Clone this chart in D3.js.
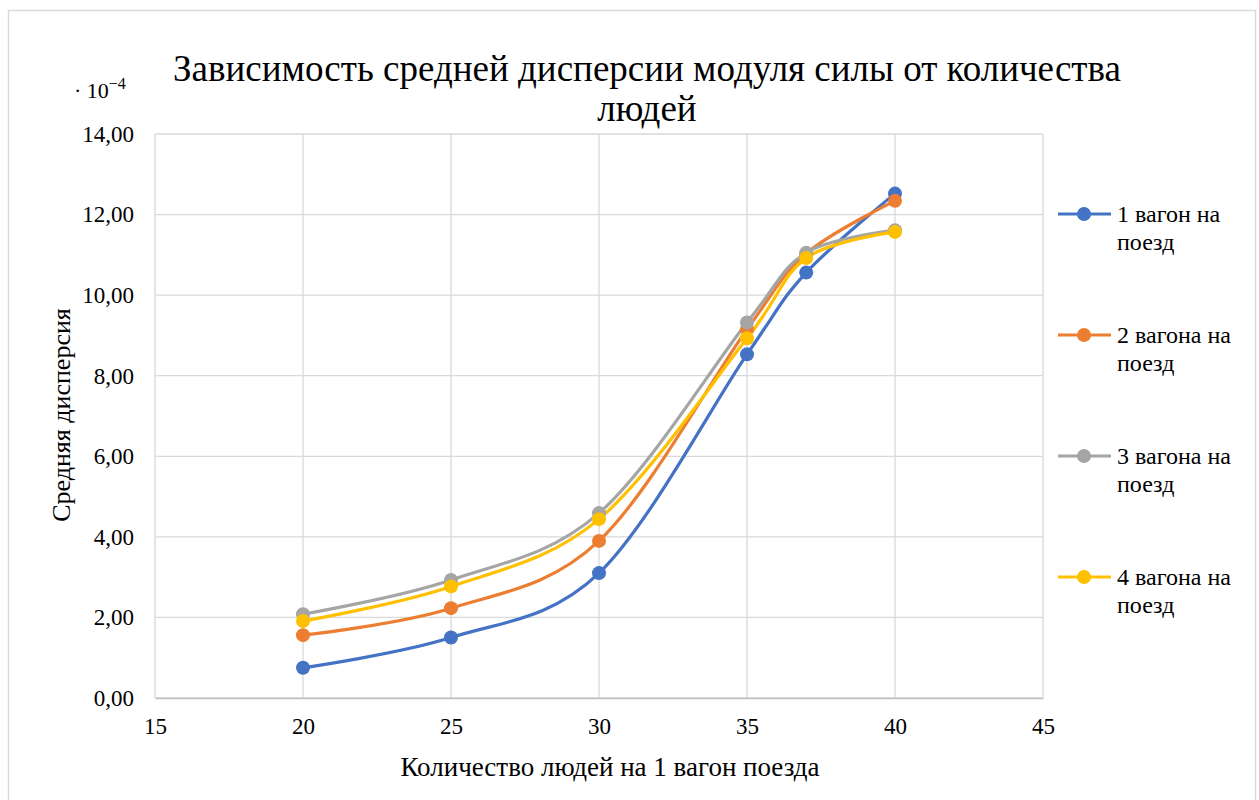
<!DOCTYPE html>
<html>
<head>
<meta charset="utf-8">
<script src="https://cdn.jsdelivr.net/npm/d3@7"></script>
<style>
body { margin: 0; background: #fff; }
svg text { font-family: "Liberation Serif", "Times New Roman", Times, serif; fill: #000; }
</style>
</head>
<body>
<div id="chart"></div>
<script>
// people per wagon
var people = [20, 25, 30, 35, 37, 40];
var seriesNames = ["1 вагон на поезд", "2 вагона на поезд", "3 вагона на поезд", "4 вагона на поезд"];
var seriesColors = ["#4472C4", "#ED7D31", "#A5A5A5", "#FFC000"];
// values are x 10^-4
var wagon1 = [0.75, 1.50, 3.10, 8.53, 10.56, 12.52];
var wagon2 = [1.56, 2.23, 3.90, 9.15, 11.03, 12.34];
var wagon3 = [2.08, 2.93, 4.59, 9.32, 11.05, 11.61];
var wagon4 = [1.91, 2.77, 4.44, 8.93, 10.92, 11.57];
var xTicks = [15, 20, 25, 30, 35, 40, 45];
var yTicks = [0, 2, 4, 6, 8, 10, 12, 14];

var allSeries = [wagon1, wagon2, wagon3, wagon4];

var width = 1259, height = 800;
var margin = {top: 134, right: 216, bottom: 102, left: 155};
var w = width - margin.left - margin.right;
var h = height - margin.top - margin.bottom;

var svg = d3.select("#chart").append("svg")
    .attr("width", width)
    .attr("height", height);

// outer chart border
svg.append("rect")
    .attr("x", 8.5).attr("y", 10.5)
    .attr("width", 1247).attr("height", 800)
    .attr("fill", "none")
    .attr("stroke", "#d9d9d9")
    .attr("stroke-width", 1.5);

var g = svg.append("g")
    .attr("transform", "translate(" + margin.left + "," + margin.top + ")");

var x = d3.scaleLinear().domain([15, 45]).range([0, w]);
var y = d3.scaleLinear().domain([0, 14]).range([h, 0]);

// grid
g.selectAll(".vgrid").data(xTicks).enter().append("line")
    .attr("x1", function(d) { return x(d); })
    .attr("x2", function(d) { return x(d); })
    .attr("y1", 0).attr("y2", h)
    .attr("stroke", "#d9d9d9").attr("stroke-width", 1.3);
g.selectAll(".hgrid").data(yTicks).enter().append("line")
    .attr("x1", 0).attr("x2", w)
    .attr("y1", function(d) { return y(d); })
    .attr("y2", function(d) { return y(d); })
    .attr("stroke", "#d9d9d9").attr("stroke-width", 1.3);

// axes
var fmt = function(d) { return d3.format(".2f")(d).replace(".", ","); };
var yAxis = g.append("g")
    .call(d3.axisLeft(y).tickValues(yTicks).tickFormat(fmt).tickSize(0).tickPadding(21))
    .attr("font-size", 23);
yAxis.select(".domain").remove();
yAxis.selectAll("text").style("font-size", "23px");

var xAxis = g.append("g")
    .attr("transform", "translate(0," + h + ")")
    .call(d3.axisBottom(x).tickValues(xTicks).tickSize(0).tickPadding(20))
    .attr("font-size", 23);
xAxis.select(".domain").attr("stroke", "#bfbfbf").attr("stroke-width", 1.5);
xAxis.selectAll("text").style("font-size", "23px");

// lines
var line = d3.line()
    .x(function(d, i) { return x(people[i]); })
    .y(function(d) { return y(d); })
    .curve(d3.curveCardinal.tension(0));

allSeries.forEach(function(s, k) {
    g.append("path")
        .datum(s)
        .attr("d", line)
        .attr("fill", "none")
        .attr("stroke", seriesColors[k])
        .attr("stroke-width", 3.2)
        .attr("stroke-linecap", "round");
});
allSeries.forEach(function(s, k) {
    g.selectAll(".dot" + k).data(s).enter().append("circle")
        .attr("cx", function(d, i) { return x(people[i]); })
        .attr("cy", function(d) { return y(d); })
        .attr("r", 7)
        .attr("fill", seriesColors[k]);
});

// title
var title = svg.append("text")
    .attr("text-anchor", "middle")
    .style("font-size", "37px");
title.append("tspan").attr("x", 647).attr("y", 81)
    .text("Зависимость средней дисперсии модуля силы от количества");
title.append("tspan").attr("x", 647).attr("y", 121).text("людей");

// multiplier
var mult = svg.append("text").attr("x", 74).attr("y", 98).style("font-size", "22px");
mult.append("tspan").text("· 10");
mult.append("tspan").attr("dy", -9).style("font-size", "16px").text("−4");

// axis titles
svg.append("text")
    .attr("x", 610).attr("y", 776)
    .attr("text-anchor", "middle")
    .style("font-size", "27px")
    .text("Количество людей на 1 вагон поезда");
svg.append("text")
    .attr("transform", "translate(70,415) rotate(-90)")
    .attr("text-anchor", "middle")
    .style("font-size", "26px")
    .text("Средняя дисперсия");

// legend
var legend = svg.append("g");
seriesNames.forEach(function(name, k) {
    var ly = 214 + k * 121;
    legend.append("line")
        .attr("x1", 1058).attr("x2", 1111)
        .attr("y1", ly).attr("y2", ly)
        .attr("stroke", seriesColors[k]).attr("stroke-width", 3.2);
    legend.append("circle")
        .attr("cx", 1084).attr("cy", ly).attr("r", 7)
        .attr("fill", seriesColors[k]);
    var parts = name.split(" ");
    var t = legend.append("text").style("font-size", "24px");
    t.append("tspan").attr("x", 1117).attr("y", ly + 8).text(parts.slice(0, -1).join(" "));
    t.append("tspan").attr("x", 1117).attr("y", ly + 36).text(parts[parts.length - 1]);
});
</script>
</body>
</html>
